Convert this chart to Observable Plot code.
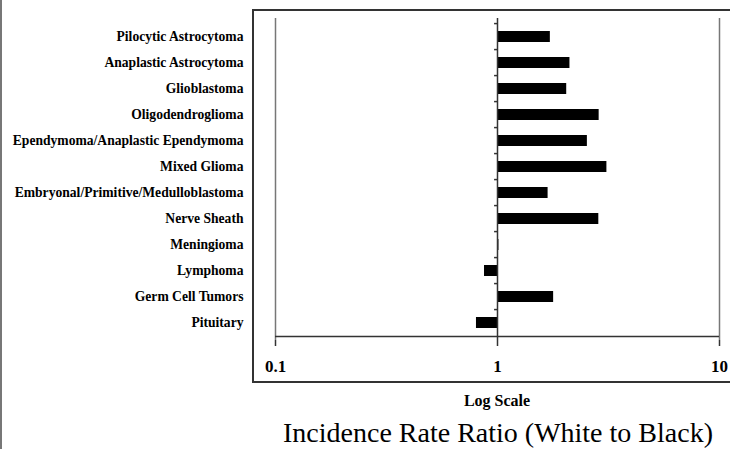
<!DOCTYPE html>
<html>
<head>
<meta charset="utf-8">
<script src="https://cdn.jsdelivr.net/npm/d3@7"></script>
<script src="https://cdn.jsdelivr.net/npm/@observablehq/plot@0.6"></script>
<style>
  html, body { margin: 0; padding: 0; background: #fff; overflow: hidden; }
  #wrap { position: relative; width: 730px; height: 449px; overflow: hidden; font-family: "Liberation Serif", "Times New Roman", serif; }
  #leftline { position: absolute; left: 0; top: 0; width: 2px; height: 449px; background: #777; }
  #frame { position: absolute; left: 252px; top: 9px; width: 520px; height: 370px; border: 2px solid #333; box-sizing: content-box; }
  #chart { position: absolute; left: 0; top: 0; }
  #xlabel { position: absolute; left: 397px; width: 200px; top: 392px; line-height: normal; text-align: center; font-weight: bold; font-size: 16px; color: #000; white-space: nowrap; }
  #title { position: absolute; left: 198px; width: 600px; top: 419px; line-height: 1; text-align: center; font-size: 28px; color: #000; white-space: nowrap; }
</style>
</head>
<body>
<div id="wrap">
  <div id="leftline"></div>
  <div id="frame"></div>
  <div id="chart"></div>
  <div id="xlabel">Log Scale</div>
  <div id="title">Incidence Rate Ratio (White to Black)</div>
</div>
<script>
const categories = [
  "Pilocytic Astrocytoma",
  "Anaplastic Astrocytoma",
  "Glioblastoma",
  "Oligodendroglioma",
  "Ependymoma/Anaplastic Ependymoma",
  "Mixed Glioma",
  "Embryonal/Primitive/Medulloblastoma",
  "Nerve Sheath",
  "Meningioma",
  "Lymphoma",
  "Germ Cell Tumors",
  "Pituitary"
];
const values = [1.73, 2.12, 2.05, 2.87, 2.54, 3.11, 1.69, 2.86, 1.015, 0.874, 1.79, 0.804];
const xTicks = [0.1, 1, 10];
const xTickLabels = ["0.1", "1", "10"];

const data = categories.map((name, i) => ({name, value: values[i]}));

const W = 730, H = 390, mT = 18, mB = 50, mL = 275, mR = 11;
const step = (H - mT - mB) / categories.length;

const plot = Plot.plot({
  width: W,
  height: H,
  marginTop: mT,
  marginBottom: mB,
  marginLeft: mL,
  marginRight: mR,
  style: {fontFamily: "Liberation Serif, Times New Roman, serif", color: "#000", background: "transparent"},
  x: {type: "log", domain: [0.1, 10]},
  y: {domain: categories, paddingInner: 0.58, paddingOuter: 0.29},
  marks: [
    Plot.ruleX([0.1, 10], {stroke: "#777", strokeWidth: 1.5}),
    Plot.barX(data, {x1: () => 1, x2: "value", y: "name", fill: "#000"}),
    Plot.ruleX([1], {stroke: "#333", strokeWidth: 1.5}),
    Plot.ruleY(categories, {y: d => d, x1: 0.97, x2: 1, dy: -step / 2, stroke: "#333", strokeWidth: 1.5}),
    Plot.ruleY([categories[categories.length - 1]], {y: d => d, x1: 0.1, x2: 10, dy: step / 2, stroke: "#333", strokeWidth: 1.5}),
    Plot.axisX({
      ticks: xTicks,
      tickFormat: d => xTickLabels[xTicks.indexOf(d)],
      tickSize: 6,
      tickPadding: 13,
      fontSize: 17,
      fontWeight: "bold",
      stroke: "#333",
      strokeWidth: 1.5,
      label: null
    }),
    Plot.axisY({
      anchor: "left",
      tickSize: 0,
      tickPadding: 32,
      fontSize: 13.6,
      fontWeight: "bold",
      label: null
    })
  ]
});
document.getElementById("chart").appendChild(plot);
</script>
</body>
</html>
